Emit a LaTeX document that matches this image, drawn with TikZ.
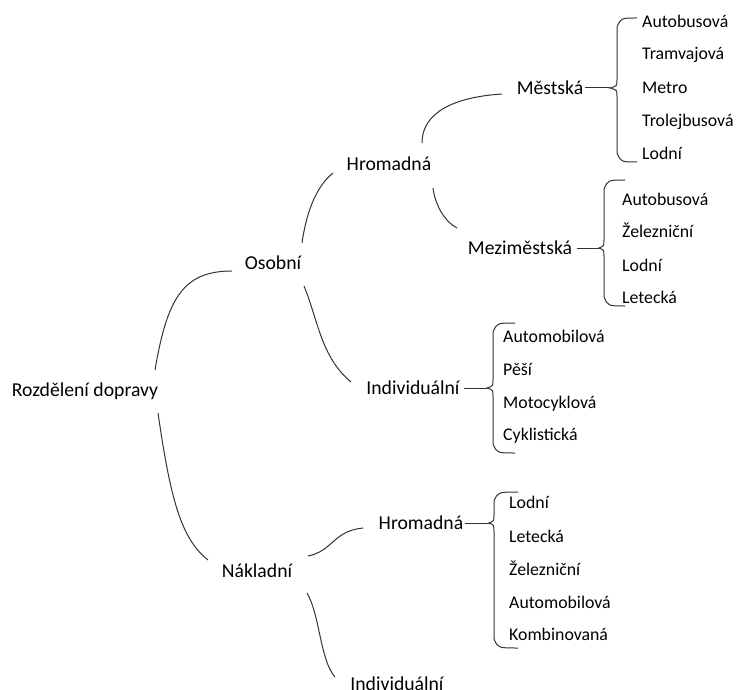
\documentclass[tikz,border=0pt]{standalone}
\usepackage{fontspec}
\setmainfont{Carlito}
\usepackage{tikz}

\begin{document}
\begin{tikzpicture}[x=1pt,y=-1pt,
    hlavni/.style={inner sep=0pt,font=\fontsize{19.7}{24}\selectfont,text height=12.5pt,text depth=0pt},
    polozka/.style={anchor=west,inner sep=0pt,font=\fontsize{17.8}{21}\selectfont,text height=11.5pt,text depth=0pt},
    vetev/.style={line width=1pt,black!80},
    zavorka/.style={line width=1pt,black!80}]
            \useasboundingbox (0,0) rectangle (737,690);
            % hlavni uzly
            \node[hlavni] (rozd) at (85,390) {Rozdělení dopravy};
            \node[hlavni] (osob) at (273,263) {Osobní};
            \node[hlavni] (nakl) at (257,571) {Nákladní};
            \node[hlavni] (hrom) at (389,164) {Hromadná};
            \node[hlavni] (indiv) at (413,388) {Individuální};
            \node[hlavni] (mest) at (550,88) {Městská};
            \node[hlavni] (mezi) at (520,248) {Meziměstská};
            \node[hlavni] (nhrom) at (421,523) {Hromadná};
            \node[hlavni] (nindiv) at (397,684) {Individuální};
            % polozky
            \node[polozka] (m1) at (642,21.5) {Autobusová};
            \node[polozka] (m2) at (642,54) {Tramvajová};
            \node[polozka] (m3) at (642,87.5) {Metro};
            \node[polozka] (m4) at (642,120.5) {Trolejbusová};
            \node[polozka] (m5) at (642,153.5) {Lodní};
            \node[polozka] (z1) at (622,200) {Autobusová};
            \node[polozka] (z2) at (622,232) {Železniční};
            \node[polozka] (z3) at (622,266) {Lodní};
            \node[polozka] (z4) at (622,298) {Letecká};
            \node[polozka] (i1) at (503,337) {Automobilová};
            \node[polozka] (i2) at (503,370) {Pěší};
            \node[polozka] (i3) at (503,403) {Motocyklová};
            \node[polozka] (i4) at (503,435) {Cyklistická};
            \node[polozka] (n1) at (509,503) {Lodní};
            \node[polozka] (n2) at (509,537) {Letecká};
            \node[polozka] (n3) at (509,570) {Železniční};
            \node[polozka] (n4) at (509,603) {Automobilová};
            \node[polozka] (n5) at (509,635) {Kombinovaná};
            % vetve
            \draw[vetev] ([shift={(70,-20)}]rozd.center) .. controls +(12,-70) and +(-50,0) .. ([shift={(-41,8)}]osob.center);
            \draw[vetev] ([shift={(29,-20)}]osob.center) .. controls +(5,-35) and +(-15,12) .. ([shift={(-56,9)}]hrom.center);
            \draw[vetev] ([shift={(31,23)}]osob.center) .. controls +(14,34) and +(-30,-25) .. ([shift={(-62,-6)}]indiv.center);
            \draw[vetev] ([shift={(33,-21)}]hrom.center) .. controls +(0,-31) and +(-47,3) .. ([shift={(-48,6)}]mest.center);
            \draw[vetev] ([shift={(44,24)}]hrom.center) .. controls +(2,17) and +(-12,-6) .. ([shift={(-63,-20)}]mezi.center);
            \draw[vetev] ([shift={(73,23)}]rozd.center) .. controls +(12,82) and +(-28,-22) .. ([shift={(-49,-11)}]nakl.center);
            \draw[vetev] ([shift={(51,-15)}]nakl.center) .. controls +(25,-5) and +(-30,3) .. ([shift={(-58,5)}]nhrom.center);
            \draw[vetev] ([shift={(50,22)}]nakl.center) .. controls +(13,22) and +(-15,-17) .. ([shift={(-62,-7)}]nindiv.center);
            % zavorky
            \coordinate (zm) at (610,88);
            \coordinate (zz) at (599,248);
            \coordinate (zi) at (487,388);
            \coordinate (zn) at (489,523);
            \draw[vetev,shorten <=2pt] (mest) -- (zm);
            \draw[vetev,shorten <=5pt] (mezi) -- (zz);
            \draw[vetev,shorten <=4pt] (indiv) -- (zi);
            \draw[vetev,shorten <=2pt] (nhrom) -- (zn);
            \draw[zavorka] (637,18) .. controls (621,18) .. (617,27) -- (617,80) .. controls (617,86) .. (zm) .. controls (617,90) .. (617,96) -- (617,153) .. controls (621,162) .. (637,162);
            \draw[zavorka] (625,180) .. controls (608,180) .. (604,189) -- (604,240) .. controls (604,246) .. (zz) .. controls (604,250) .. (604,256) -- (604,297) .. controls (608,306) .. (625,306);
            \draw[zavorka] (515,323) .. controls (497,323) .. (493,332) -- (493,380) .. controls (493,386) .. (zi) .. controls (493,390) .. (493,396) -- (493,444) .. controls (497,453) .. (515,453);
            \draw[zavorka] (518,492) .. controls (498,492) .. (494,501) -- (494,515) .. controls (494,521) .. (zn) .. controls (494,525) .. (494,531) -- (494,639) .. controls (498,648) .. (518,648);
        \end{tikzpicture}
\end{document}
